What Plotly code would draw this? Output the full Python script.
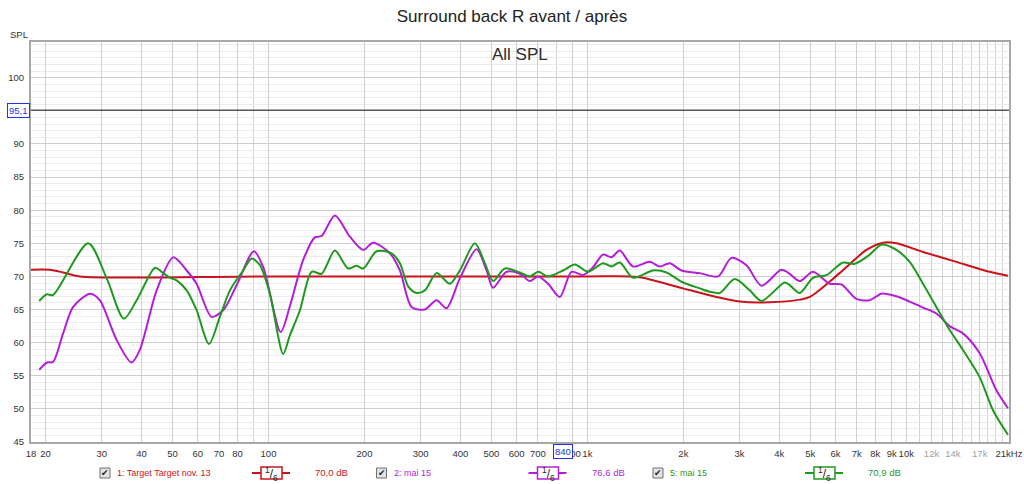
import math
import plotly.graph_objects as go

# ---------------- data ----------------
target_freq = [18, 20.6, 22.7, 25.6, 100, 1000, 1359, 1492, 1992, 2540, 3005, 3731,
               4634, 4981, 6183, 7501, 8454, 9313, 11285, 14362, 18265, 20843]
target_db = [71.0, 71.0, 70.6, 70.0, 70.0, 70.0, 70.0, 69.8, 68.2, 66.9, 66.2, 66.1,
             66.5, 66.9, 70.5, 74.0, 75.1, 75.0, 73.7, 72.2, 70.7, 70.1]

mai2_freq = [19.1, 20.2, 21.1, 22.7, 24.4, 27.6, 29.6, 33.4, 37.2, 39.5, 44.6, 50.3,
             55.4, 59.5, 66.3, 72.1, 79.5, 90.0, 96.3, 109.2, 116.7, 128.5, 139.8,
             146.7, 161.5, 180.0, 198.2, 212.9, 240.3, 258.3, 281.0, 309.3, 336.6,
             361.7, 398.2, 449.3, 482.9, 506.4, 557.8, 614.1, 660.0, 700.9, 753.3,
             819.8, 891.5, 969.7, 1042, 1120, 1190, 1264, 1391, 1570, 1687, 1813,
             1973, 2252, 2569, 2830, 3154, 3515, 4060, 4311, 4634, 5101, 5754, 6260,
             6978, 7682, 8356, 9313, 10250, 11285, 12430, 13684, 15065, 16990,
             19170, 20843]
mai2_db = [55.9, 57.0, 57.1, 61.4, 65.4, 67.4, 66.4, 60.4, 57.0, 58.9, 67.9, 72.9,
           70.9, 68.9, 63.9, 64.9, 68.7, 73.8, 71.4, 61.6, 65.5, 72.5, 75.9,
           76.1, 79.2, 76.0, 74.0, 75.1, 73.5, 70.9, 65.4, 65.0, 66.4,
           65.2, 69.7, 74.1, 70.9, 68.3, 70.7, 70.4, 69.3, 70.0, 68.9,
           66.9, 70.7, 70.2, 71.4, 73.3, 72.9, 73.9, 71.5, 72.2, 71.5, 72.0,
           70.9, 70.5, 70.0, 72.8, 71.7, 68.6, 71.0, 70.4, 69.3, 70.7, 68.9, 68.8,
           66.6, 66.4, 67.4, 67.0, 66.2, 65.3, 64.4, 62.5, 61.4, 58.4,
           52.8, 50.1]

mai5_freq = [19.1, 20.2, 21.1, 27.2, 31.1, 35.2, 38.6, 44.1, 46.2, 49.1, 51.5, 55.4,
             59.5, 65.1, 70.4, 75.7, 83.3, 88.6, 94.0, 101.0, 111.2, 116.7, 125.5,
             136.6, 146.7, 161.5, 177.8, 188.9, 198.2, 218.3, 243.2, 258.3, 274.2,
             291.3, 309.3, 336.6, 370.5, 398.2, 443.8, 476.9, 506.4, 551.0, 614.1,
             660.0, 700.9, 753.3, 839.6, 913.1, 1005, 1120, 1190, 1264, 1391, 1607,
             1771, 1973, 2252, 2420, 2601, 2899, 3230, 3515, 4158, 4311, 4634, 5101,
             5619, 6333, 6893, 7682, 8356, 9313, 10250, 11285, 12430, 13684, 15065,
             16990, 18706, 20843]
mai5_db = [66.3, 67.3, 67.2, 75.0, 69.7, 63.6, 66.4, 71.3, 70.7, 69.8, 69.4, 67.9,
           64.9, 59.8, 63.9, 67.9, 70.9, 72.7, 71.7, 67.4, 58.3, 61.1, 64.9,
           70.7, 70.4, 73.9, 71.2, 71.6, 71.2, 73.8, 73.5, 72.0, 68.5,
           67.5, 67.9, 70.5, 68.9, 70.9, 75.0, 72.0, 69.3, 71.2, 70.6,
           70.0, 70.7, 70.0, 70.9, 71.8, 70.7, 72.0, 71.5, 72.1, 69.8, 70.9,
           70.6, 69.2, 68.2, 67.7, 67.5, 69.6, 67.9, 66.3, 69.1, 68.7, 67.5, 69.8,
           70.2, 72.1, 71.9, 73.3, 74.8, 74.0, 72.2, 68.9, 65.4, 61.9, 58.9,
           54.8, 49.8, 46.1]

x_tick_vals = [18, 20, 30, 40, 50, 60, 70, 80, 100, 200, 300, 400, 500, 600, 700, 900,
               1000, 2000, 3000, 4000, 5000, 6000, 7000, 8000, 9000, 10000, 12000,
               14000, 17000, 21000]
x_tick_text = ["18", "20", "30", "40", "50", "60", "70", "80", "100", "200", "300", "400",
               "500", "600", "700", "900", "1k", "2k", "3k", "4k", "5k", "6k", "7k", "8k",
               "9k", "10k", "<span style='color:#a0a0a0'>12k</span>",
               "<span style='color:#a0a0a0'>14k</span>",
               "<span style='color:#a0a0a0'>17k</span>", "21kHz"]
x_minor_vals = [90, 800, 11000, 13000, 15000, 16000, 18000, 19000, 20000]
y_tick_vals = [45, 50, 55, 60, 65, 70, 75, 80, 85, 90, 95, 100]
y_tick_text = ["45", "50", "55", "60", "65", "70", "75", "80", "85", "90", "", "100"]

legend_names = ["1: Target Target nov. 13", "2: mai 15", "5: mai 15"]
legend_values = ["70,0 dB", "76,6 dB", "70,9 dB"]
cursor_freq = 840
ref_level = 95.1

RED = "#c8141c"
PURPLE = "#b21fd6"
GREEN = "#1f9a1f"
colors = [RED, PURPLE, GREEN]
FONT = "Liberation Sans, Arial, sans-serif"

# ---------------- figure ----------------
fig = go.Figure()
for f, d, c in [(target_freq, target_db, RED), (mai2_freq, mai2_db, PURPLE),
                (mai5_freq, mai5_db, GREEN)]:
    fig.add_trace(go.Scatter(x=f, y=d, mode="lines",
                             line=dict(color=c, width=2, shape="spline", smoothing=0.8),
                             showlegend=False, hoverinfo="skip"))

L, R, T, B = 31, 15, 42, 42
W, H = 1024, 484
PW, PH = W - L - R, H - T - B


def px_x(px):
    return (px - L) / PW


def px_y(py):
    return (H - B - py) / PH


shapes = []
annotations = []

# decade lines
for v in [100, 1000, 10000]:
    shapes.append(dict(type="line", xref="x", yref="paper", x0=math.log10(v), x1=math.log10(v),
                       y0=0, y1=1, line=dict(color="#9c9c9c", width=1), layer="between"))
# reference level line
shapes.append(dict(type="line", xref="paper", yref="y", x0=0, x1=1, y0=ref_level, y1=ref_level,
                   line=dict(color="#555555", width=1.5), layer="above"))
# cursor line
shapes.append(dict(type="line", xref="x", yref="paper", x0=math.log10(cursor_freq),
                   x1=math.log10(cursor_freq), y0=0, y1=1,
                   line=dict(color="#1a1a1a", width=1), layer="above"))

annotations.append(dict(text="95,1", xref="paper", yref="y", x=px_x(30), y=ref_level,
                        xanchor="right", yanchor="middle", showarrow=False,
                        font=dict(family=FONT, size=9.5, color="#2233ee"),
                        bgcolor="white", bordercolor="#2233ee", borderwidth=1, borderpad=1))
annotations.append(dict(text="840", xref="x", yref="paper", x=math.log10(cursor_freq),
                        y=px_y(451), xanchor="center", yanchor="middle", showarrow=False,
                        font=dict(family=FONT, size=9.5, color="#2233ee"),
                        bgcolor="white", bordercolor="#2233ee", borderwidth=1, borderpad=1))
annotations.append(dict(text="All SPL", xref="paper", yref="paper", x=0.5, y=px_y(54),
                        xanchor="center", yanchor="middle", showarrow=False,
                        font=dict(family=FONT, size=17, color="#2a2a2a")))
annotations.append(dict(text="SPL", xref="paper", yref="paper", x=px_x(19), y=px_y(35),
                        xanchor="center", yanchor="middle", showarrow=False,
                        font=dict(family=FONT, size=9.5, color="#333333")))

# legend row
ly = 473
for i, (name, val, c) in enumerate(zip(legend_names, legend_values, colors)):
    off = i * 276.5
    # checkbox
    shapes.append(dict(type="rect", xref="paper", yref="paper",
                       x0=px_x(100 + off), x1=px_x(110 + off), y0=px_y(478), y1=px_y(468),
                       line=dict(color="#707070", width=1), fillcolor="#e4e4e4"))
    annotations.append(dict(text="✔", xref="paper", yref="paper", x=px_x(105 + off), y=px_y(473),
                            xanchor="center", yanchor="middle", showarrow=False,
                            font=dict(family="DejaVu Sans", size=9, color="#222222")))
    annotations.append(dict(text=name, xref="paper", yref="paper", x=px_x(115 + off), y=px_y(ly),
                            xanchor="left", yanchor="middle", showarrow=False,
                            font=dict(family=FONT, size=9, color=c)))
    # line symbol with smoothing box
    shapes.append(dict(type="line", xref="paper", yref="paper", x0=px_x(252 + off),
                       x1=px_x(290 + off), y0=px_y(ly), y1=px_y(ly), line=dict(color=c, width=2)))
    shapes.append(dict(type="rect", xref="paper", yref="paper", x0=px_x(261 + off),
                       x1=px_x(282 + off), y0=px_y(479), y1=px_y(467),
                       line=dict(color=c, width=1.5), fillcolor="white"))
    annotations.append(dict(text="<sup>1</sup>/<sub>6</sub>", xref="paper", yref="paper",
                            x=px_x(271.5 + off), y=px_y(ly + 1), xanchor="center", yanchor="middle",
                            showarrow=False, font=dict(family=FONT, size=12, color="#222222")))
    annotations.append(dict(text=val, xref="paper", yref="paper", x=px_x(350 + off), y=px_y(ly),
                            xanchor="right", yanchor="middle", showarrow=False,
                            font=dict(family=FONT, size=9.5, color=c)))

fig.update_layout(
    width=W, height=H,
    margin=dict(l=L, r=R, t=T, b=B, pad=0, autoexpand=False),
    paper_bgcolor="white", plot_bgcolor="white",
    font=dict(family=FONT, size=9.5, color="#333333"),
    title=dict(text="Surround back R avant / après", x=0.5, xref="container", xanchor="center",
               y=1 - 16 / H, yref="container", yanchor="middle",
               font=dict(family=FONT, size=17, color="#222222")),
    xaxis=dict(type="log", range=[math.log10(18), math.log10(21000)], automargin=False,
               tickmode="array", tickvals=x_tick_vals, ticktext=x_tick_text, tickangle=0,
               showgrid=True, gridcolor="#d2d2d2", gridwidth=1,
               minor=dict(tickmode="array", tickvals=x_minor_vals, showgrid=True,
                          gridcolor="#d2d2d2", ticks=""),
               showline=True, linecolor="#a8a8a8", linewidth=2, mirror=True,
               ticks="", zeroline=False, ticklabelstandoff=2,
               tickfont=dict(family=FONT, size=9.5, color="#333333")),
    yaxis=dict(range=[45, 105.4], tickmode="array", tickvals=y_tick_vals, ticktext=y_tick_text,
               automargin=False,
               showgrid=True, gridcolor="#cdcdcd", gridwidth=1,
               minor=dict(tickmode="linear", tick0=45, dtick=1, showgrid=True,
                          gridcolor="#ececec", ticks=""),
               showline=True, linecolor="#a8a8a8", linewidth=2, mirror=True,
               ticks="", zeroline=False, ticklabelstandoff=3,
               tickfont=dict(family=FONT, size=9.5, color="#333333")),
    shapes=shapes, annotations=annotations,
)

fig.write_html("out.html", config={"displayModeBar": False},
               post_script="document.body.style.margin='0';")
